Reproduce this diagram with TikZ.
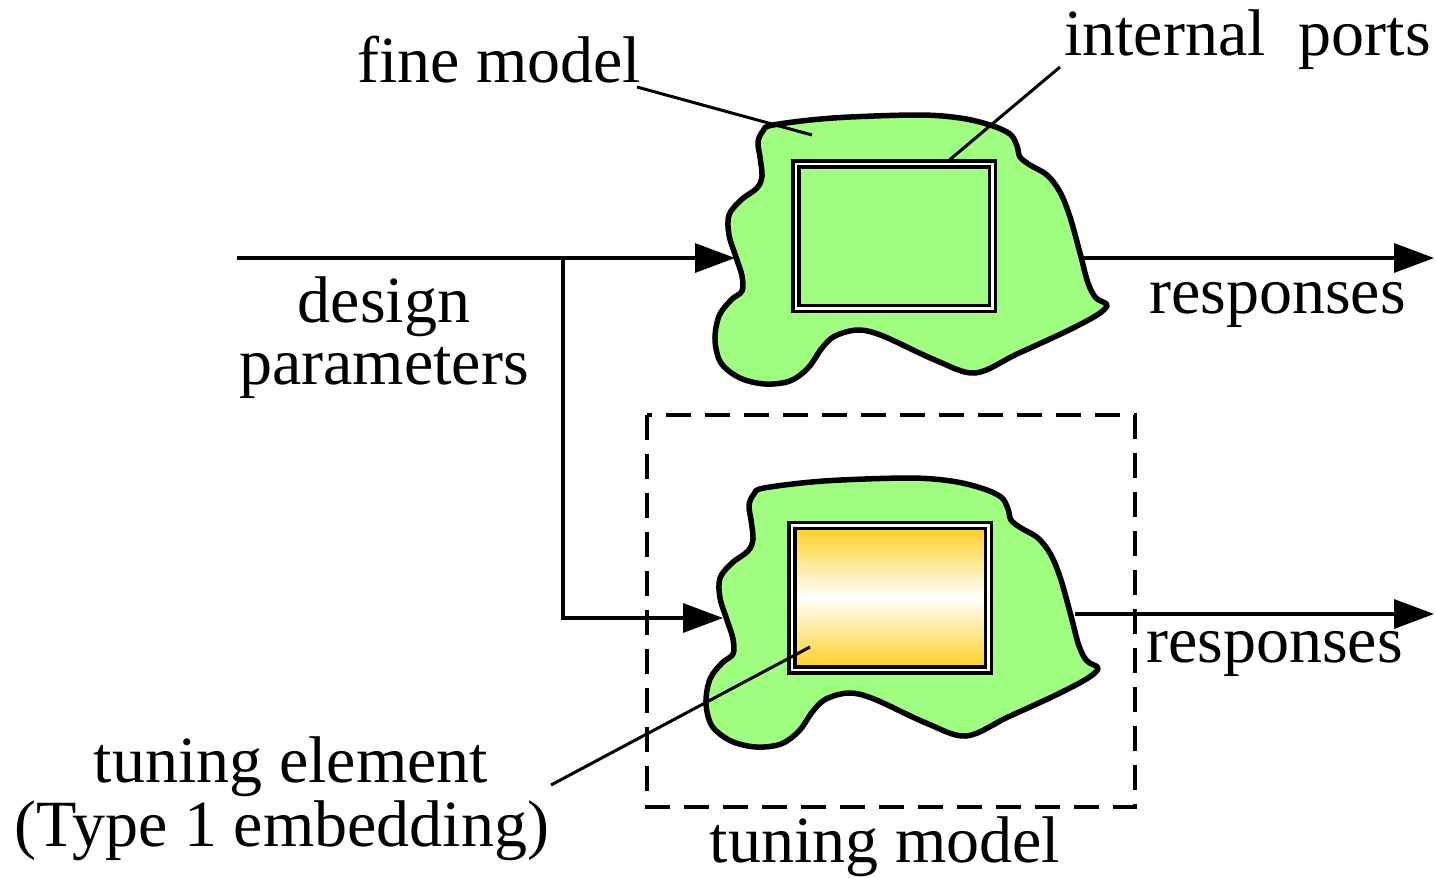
\documentclass[tikz,border=0pt]{standalone}
\usepackage{fontspec}
\setmainfont{Liberation Serif}
\usetikzlibrary{arrows.meta}
\definecolor{blobgreen}{RGB}{160,255,128}
\definecolor{tunegold}{RGB}{255,206,30}

\begin{document}
\begin{tikzpicture}[x=1bp,y=-1bp,
  lbl/.style={font=\fontsize{66bp}{70bp}\selectfont, inner sep=0pt},
  conn/.style={line width=3.3bp},
  flow/.style={conn, -{Triangle[length=40bp,width=29bp]}},
  leader/.style={line width=3bp},
  blob/.style={draw, line width=5.5bp, fill=blobgreen, line join=round},
  port/.style={draw, line width=3.5bp, double=white, double distance=2.5bp,
    minimum width=196.5bp, minimum height=144.5bp, inner sep=0pt},
  frame/.style={line width=3.5bp, dash pattern=on 25bp off 14bp},
  pics/blob/.style={code={
    \path[blob] plot[smooth cycle, tension=0.55] coordinates {
      (773,125) (833,118) (917,115) (960,118) (990,125) (1010,134)
      (1017,146) (1020,157) (1030,165) (1047,175) (1060,192) (1070,217)
      (1080,253) (1088,283) (1096,298) (1107,305) (1097,315) (1067,331)
      (1017,354) (975,373) (935,360) (883,336) (858,330) (835,336)
      (822,348) (808,368) (790,381) (765,384) (740,378) (721,363)
      (715,340) (719,316) (731,300) (742,291) (742,276) (736,257)
      (729,235) (729,215) (741,200) (757,188) (762,176) (760,157)
      (758,142) (763,131)};
  }}]

\useasboundingbox (0,0) rectangle (1435,877);

% the two model outlines
\pic at (0,0) {blob};
\pic at (-9,363) {blob};

% internal ports of the fine model and the tuning element
\node[port, fill=blobgreen] (fport) at (894,236) {};
\node[port, top color=tunegold, bottom color=tunegold, middle color=white]
  (tport) at (890,597.5) {};

% boundary of the tuning model
\draw[frame] (647,415) rectangle (1135,807);

% connector end points
\coordinate (din)  at (237,258);
\coordinate (br)   at (563,258);
\coordinate (fin)  at (735,258);
\coordinate (tin)  at (723,618);
\coordinate (fout) at (1080,258);
\coordinate (fend) at (1434,258);
\coordinate (tout) at (1075,614);
\coordinate (tend) at (1434,614);

\draw[flow] (din) -- (fin);
\draw[flow] (br) |- (tin);
\draw[flow] (fout) -- (fend);
\draw[flow] (tout) -- (tend);

% labels
\node[lbl, anchor=base west] (lfine) at (357,82) {fine model};
\node[lbl, anchor=base west] (lports) at (1064,55) {internal\ \ ports};
\node[lbl, anchor=base] (ldes) at (384,322) {design};
\node[lbl, anchor=base] (lpar) at (384,384) {parameters};
\node[lbl, anchor=base west] (lresf) at (1149,313) {responses};
\node[lbl, anchor=base west] (lrest) at (1146,662) {responses};
\node[lbl, anchor=base] (ltun) at (291,782) {tuning element};
\node[lbl, anchor=base] (ltype) at (282,846) {(Type 1 embedding)};
\node[lbl, anchor=base] (lmodel) at (885,862) {tuning model};

% leader lines
\coordinate (lf1) at (637,87);
\coordinate (lf2) at (812,135);
\coordinate (lp1) at (1060,67);
\coordinate (lt1) at (551,785);
\coordinate (lt2) at (810,647);
\draw[leader] (lf1) -- (lf2);
\draw[leader] (lp1) -- (fport.north -| 947,0);
\draw[leader] (lt1) -- (lt2);
\end{tikzpicture}
\end{document}
